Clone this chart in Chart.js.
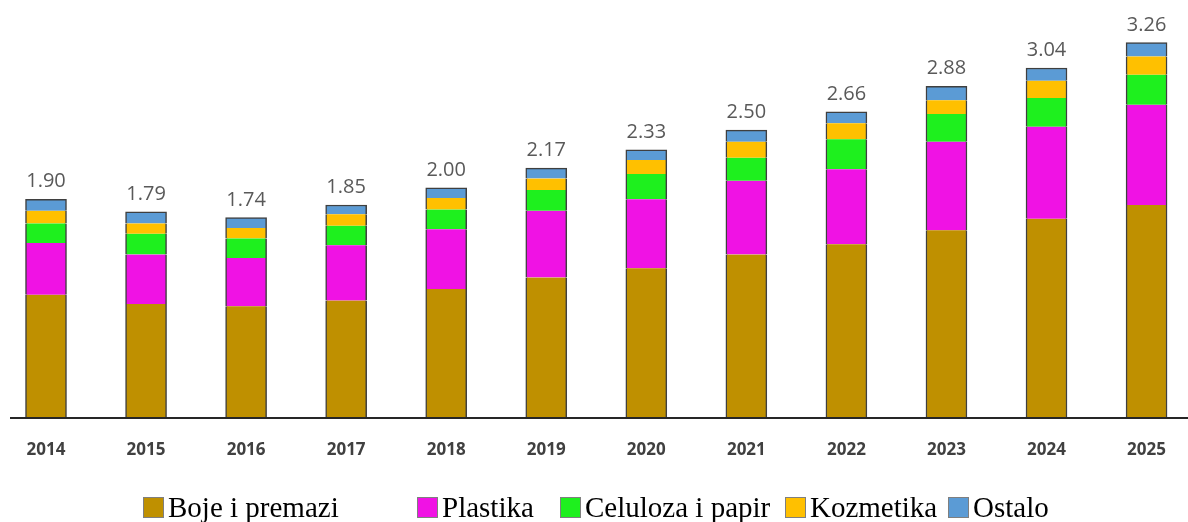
<!DOCTYPE html>
<html>
<head>
<meta charset="utf-8">
<title>Boje i premazi</title>
<script src="https://cdn.jsdelivr.net/npm/chart.js@4"></script>
<style>
  html, body { margin: 0; padding: 0; background: #fff; }
  #wrap { position: relative; width: 1188px; height: 522px; overflow: hidden; }
  #legend { position: absolute; left: 0; top: 493px; width: 1188px; height: 29px; }
  .item { position: absolute; top: 0; display: flex; align-items: center; height: 29px; white-space: nowrap;
          font-family: "Liberation Serif", "Times New Roman", serif; font-size: 29px; color: #000; }
  .box { width: 21px; height: 21px; border: 1px solid #7f7f7f; margin-right: 4px; box-sizing: border-box; }
</style>
</head>
<body>
<div id="wrap">
  <canvas id="myChart" width="1188" height="522"></canvas>
  <div id="legend"></div>
</div>
<script>
const years = ['2014', '2015', '2016', '2017', '2018', '2019', '2020', '2021', '2022', '2023', '2024', '2025'];
const totals = ['1.90', '1.79', '1.74', '1.85', '2.00', '2.17', '2.33', '2.50', '2.66', '2.88', '3.04', '3.26'];

const bojeIPremazi = [1.07, 0.99, 0.97, 1.02, 1.12, 1.22, 1.30, 1.42, 1.51, 1.63, 1.73, 1.85];
const plastika = [0.45, 0.43, 0.42, 0.48, 0.52, 0.58, 0.60, 0.64, 0.65, 0.77, 0.80, 0.87];
const celuloza = [0.17, 0.18, 0.17, 0.17, 0.17, 0.18, 0.22, 0.20, 0.26, 0.24, 0.25, 0.26];
const kozmetika = [0.11, 0.09, 0.09, 0.10, 0.10, 0.10, 0.12, 0.14, 0.14, 0.12, 0.15, 0.16];
const ostalo = [0.10, 0.10, 0.09, 0.08, 0.09, 0.09, 0.09, 0.10, 0.10, 0.12, 0.11, 0.12];

const seriesNames = ['Boje i premazi', 'Plastika', 'Celuloza i papir', 'Kozmetika', 'Ostalo'];
const seriesData = [bojeIPremazi, plastika, celuloza, kozmetika, ostalo];
const seriesColors = ['#bf9000', '#f012e4', '#1ef01e', '#ffc000', '#5b9bd5'];

// legend item left edges (px), to match the loose spacing of the original
const legendLeft = [143, 417, 560, 785, 948];

const outline = '#3f3f3f';

const datasets = seriesNames.map((name, i) => ({
  label: name,
  data: seriesData[i],
  backgroundColor: seriesColors[i],
  borderColor: outline,
  borderSkipped: false,
  borderWidth: {
    left: 1.5,
    right: 1.5,
    top: i === seriesNames.length - 1 ? 1.5 : 0,
    bottom: 0
  },
  barThickness: 41,
  clip: false // first/last bars hang past the chart area edges
}));

// totals above each bar + the dark baseline
const extras = {
  id: 'extras',
  afterDatasetsDraw(chart) {
    const { ctx } = chart;
    const x = chart.scales.x;
    const y = chart.scales.y;

    ctx.save();
    ctx.font = '20px "Open Sans", sans-serif';
    ctx.fillStyle = '#595959';
    ctx.textAlign = 'center';
    ctx.textBaseline = 'alphabetic';
    years.forEach((yr, i) => {
      let sum = 0;
      seriesData.forEach(s => { sum += s[i]; });
      ctx.fillText(totals[i], x.getPixelForValue(i), y.getPixelForValue(sum) - 12);
    });

    const base = y.getPixelForValue(0);
    ctx.strokeStyle = '#262626';
    ctx.lineWidth = 2;
    ctx.beginPath();
    ctx.moveTo(10, base);
    ctx.lineTo(chart.width, base);
    ctx.stroke();
    ctx.restore();
  }
};

const chart = new Chart(document.getElementById('myChart'), {
  type: 'bar',
  data: { labels: years, datasets: datasets },
  options: {
    responsive: false,
    animation: false,
    layout: { padding: { left: 46, right: 34, top: 15, bottom: 0 } },
    plugins: {
      legend: { display: false },
      tooltip: { enabled: false }
    },
    scales: {
      x: {
        stacked: true,
        offset: false,
        grid: { display: false, drawTicks: false },
        border: { display: false },
        ticks: {
          padding: 22,
          color: '#404040',
          font: { family: '"Open Sans", sans-serif', size: 17, weight: 'bold' }
        },
        afterFit(scale) { scale.height = 104; }
      },
      y: {
        stacked: true,
        display: false,
        min: 0,
        max: 3.5
      }
    }
  },
  plugins: [extras]
});

// legend built from the same series arrays
const legend = document.getElementById('legend');
seriesNames.forEach((name, i) => {
  const item = document.createElement('div');
  item.className = 'item';
  item.style.left = legendLeft[i] + 'px';
  const box = document.createElement('span');
  box.className = 'box';
  box.style.background = seriesColors[i];
  const txt = document.createElement('span');
  txt.textContent = name;
  item.appendChild(box);
  item.appendChild(txt);
  legend.appendChild(item);
});
</script>
</body>
</html>
